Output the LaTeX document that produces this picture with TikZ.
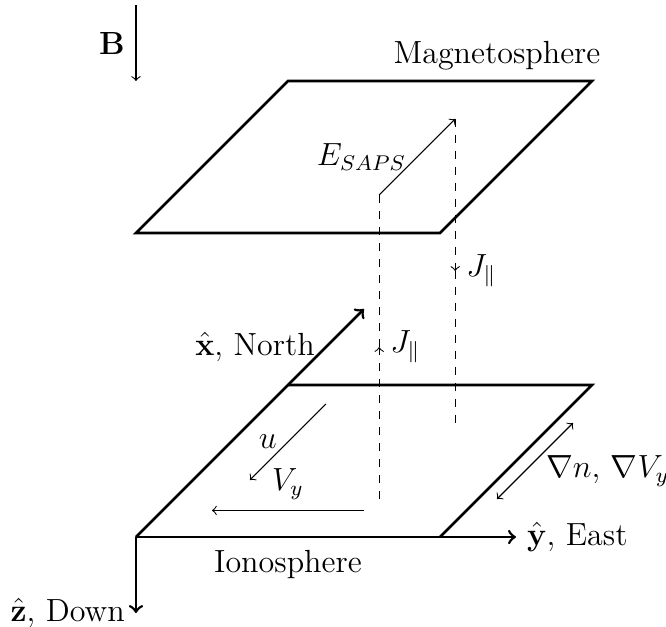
\documentclass[12pt,tikz,border=0pt]{standalone}
\begin{document}
\begin{tikzpicture}[
  plane/.style={line width=1pt},
  axis/.style={line width=1pt,->},
  thinarrow/.style={->},
  current/.style={dashed}]
\useasboundingbox (-1.789,-1.171) rectangle (6.974,7.066);
% lower plane (Ionosphere)
\coordinate (O) at (0,0);
\coordinate (L2) at (4,0);
\coordinate (L3) at (6,2);
\coordinate (L4) at (2,2);
% upper plane (Magnetosphere)
\coordinate (U1) at (0,4);
\coordinate (U2) at (4,4);
\coordinate (U3) at (6,6);
\coordinate (U4) at (2,6);
% axes ends
\coordinate (X) at (3,3);
\coordinate (Y) at (5,0);
\coordinate (Z) at (0,-1);
% B field
\coordinate (B1) at (0,7);
\coordinate (B2) at (0,6);
% currents and fields
\coordinate (Ja) at (3.2,0.5);
\coordinate (Jam) at (3.2,2.5);
\coordinate (Jb) at (3.2,4.5);
\coordinate (Ea) at (4.2,5.5);
\coordinate (Jcm) at (4.2,3.5);
\coordinate (Jc) at (4.2,1.5);
\coordinate (ua) at (2.5,1.75);
\coordinate (ub) at (1.5,0.75);
\coordinate (va) at (3,0.35);
\coordinate (vb) at (1,0.35);
\coordinate (ga) at (4.75,0.5);
\coordinate (gb) at (5.75,1.5);

\draw[plane] (L2) -- (L3) -- (L4);
\draw[plane] (U1) -- (U2) -- (U3) -- (U4) -- cycle;

\draw[axis] (O) -- (X);
\draw[axis] (O) -- (Y);
\draw[axis] (O) -- (Z);

\node[left] (xl) at (2.5,2.5) {$\hat{\mathbf{x}}$, North};
\node[right] (yl) at (Y) {$\hat{\mathbf{y}}$, East};
\node[left] (zl) at (Z) {$\hat{\mathbf{z}}$, Down};

\draw[thinarrow] (B1) -- (B2);
\node[left] (bl) at (0,6.5) {$\mathbf{B}$};

\node[above] (mag) at (4.75,6) {Magnetosphere};
\node[below] (ion) at (2,-0.03) {Ionosphere};

\draw[current,->] (Ja) -- (Jam);
\draw[current] (Jam) -- (Jb);
\node[right] (j1) at (Jam) {$J_{\parallel}$};

\draw[thinarrow] (Jb) -- node[left] (el) {$E_{SAPS}$} (Ea);

\draw[current,->] (Ea) -- (Jcm);
\draw[current] (Jcm) -- (Jc);
\node[right] (j2) at (Jcm) {$J_{\parallel}$};

\draw[thinarrow] (ua) -- node[left] (ul) {$u$} (ub);
\draw[thinarrow] (va) -- node[above] (vl) {$V_y$} (vb);
\draw[<->] (ga) -- (gb);
\node[right] (gl) at (5.25,0.87) {$\nabla n$, $\nabla V_y$};
\end{tikzpicture}
\end{document}
